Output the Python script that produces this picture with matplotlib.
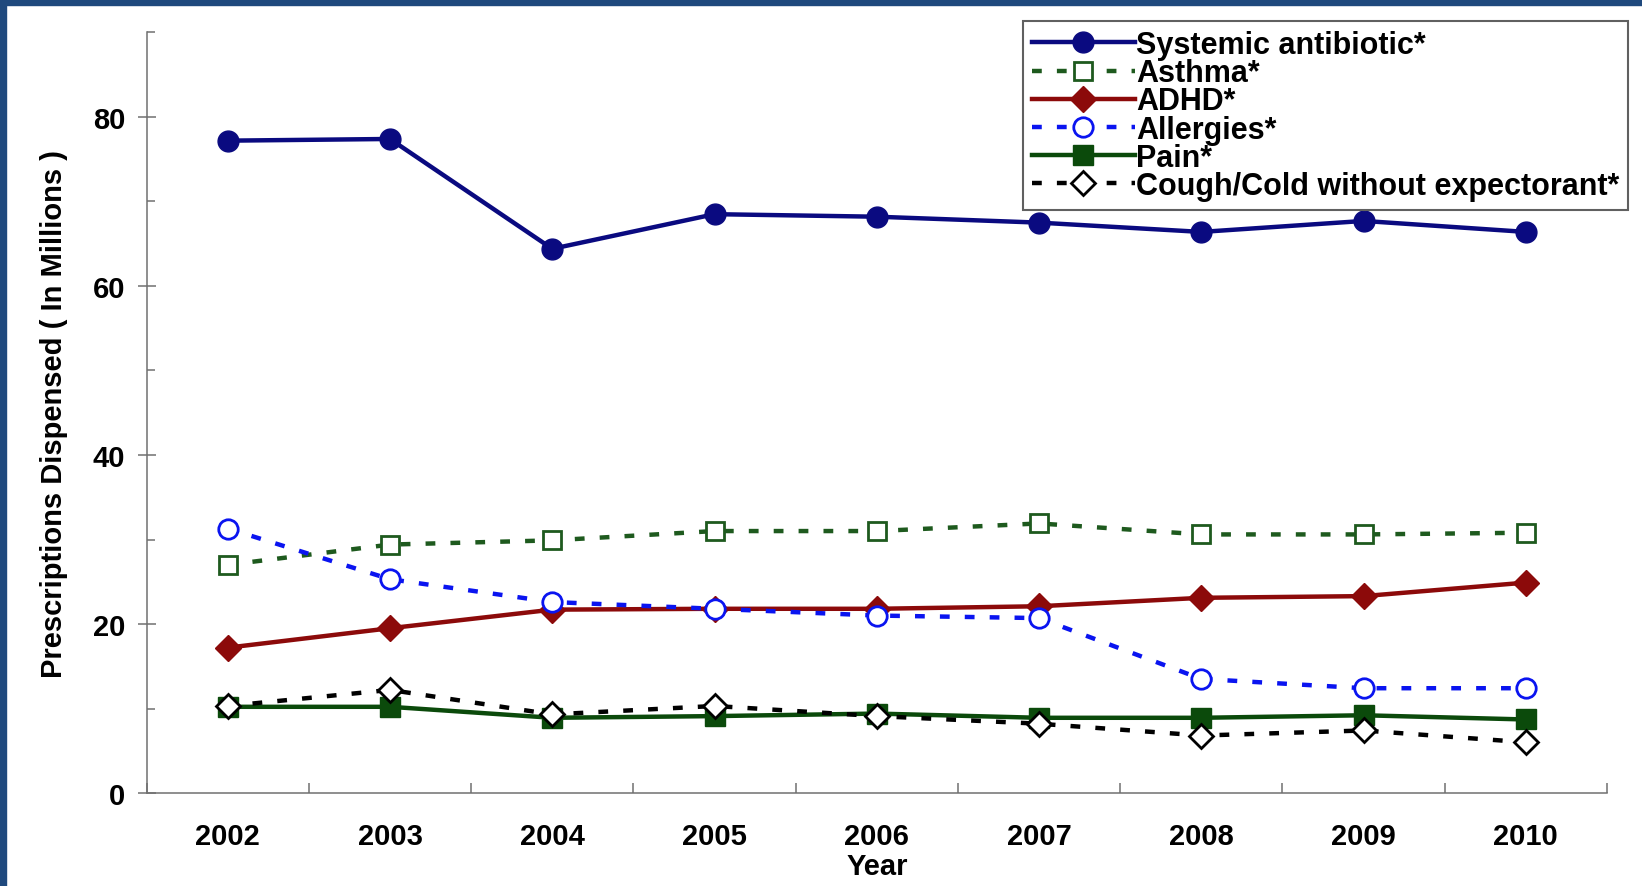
# Prescriptions dispensed by therapeutic class, 2002-2010
import numpy as np
import matplotlib
matplotlib.use("Agg")
import matplotlib.pyplot as plt
from matplotlib.patches import Rectangle
from matplotlib.ticker import MultipleLocator, FixedLocator

years = ["2002", "2003", "2004", "2005", "2006", "2007", "2008", "2009", "2010"]

systemic = [77.2, 77.4, 64.4, 68.5, 68.2, 67.5, 66.4, 67.7, 66.4]
asthma = [27.0, 29.4, 29.9, 31.0, 31.0, 31.9, 30.6, 30.6, 30.8]
adhd = [17.2, 19.5, 21.7, 21.8, 21.8, 22.1, 23.1, 23.3, 24.9]
allergies = [31.3, 25.3, 22.6, 21.8, 21.0, 20.7, 13.5, 12.4, 12.4]
pain = [10.2, 10.2, 8.9, 9.1, 9.4, 8.9, 8.9, 9.2, 8.7]
cough = [10.3, 12.2, 9.3, 10.3, 9.1, 8.2, 6.8, 7.4, 6.0]

labels = ["Systemic antibiotic*", "Asthma*", "ADHD*", "Allergies*", "Pain*",
          "Cough/Cold without expectorant*"]

plt.rcParams['font.family'] = ['Liberation Sans', 'DejaVu Sans']
plt.rcParams['font.weight'] = 'bold'

fig = plt.figure(figsize=(16.42, 8.87), dpi=100)
W, H = 1642, 887
ax = fig.add_axes([146.6 / W, 1 - 794 / H, (1607 - 146.6) / W, (794 - 33.5) / H])

# blue frame on top and left
fig.patches.append(Rectangle((0, 1 - 6 / H), 1, 6 / H, transform=fig.transFigure,
                             color="#1F497D", zorder=10))
fig.patches.append(Rectangle((0, 0), 6 / W, 1, transform=fig.transFigure,
                             color="#1F497D", zorder=10))

x = np.arange(1, len(years) + 1)
lw = 3.2
dash = (2.2, 3.4)

ax.plot(x, systemic, color="#0A0A80", lw=lw, marker="o", ms=15, label=labels[0])
ax.plot(x, asthma, color="#1E5A1E", lw=lw, dashes=dash, marker="s", ms=13,
        mfc="white", mec="#1E5A1E", mew=2, label=labels[1])
ax.plot(x, adhd, color="#8C0A0A", lw=lw, marker="D", ms=13, label=labels[2])
ax.plot(x, allergies, color="#0A14F0", lw=lw, dashes=dash, marker="o", ms=14,
        mfc="white", mec="#0A14F0", mew=2, label=labels[3])
ax.plot(x, pain, color="#0B4A0B", lw=lw, marker="s", ms=14, label=labels[4])
ax.plot(x, cough, color="black", lw=lw, dashes=dash, marker="D", ms=12,
        mfc="white", mec="black", mew=2, label=labels[5])

ax.set_xlim(0.5, len(years) + 0.5)
ax.set_ylim(0, 90)

ax.set_xticks(x)
ax.set_xticklabels(years)
ax.xaxis.set_minor_locator(FixedLocator(np.arange(0.5, len(years) + 1, 1)))
ax.tick_params(axis="x", which="major", length=0, pad=21, labelsize=21)
ax.tick_params(axis="x", which="minor", direction="in", length=7, width=1.1,
               color="#707070")

ax.yaxis.set_major_locator(MultipleLocator(20))
ax.yaxis.set_minor_locator(FixedLocator([10, 30, 50, 70, 90]))
ax.tick_params(axis="y", which="major", direction="inout", length=13, width=1.1,
               color="#707070", pad=9, labelsize=21)
ax.tick_params(axis="y", which="minor", direction="in", length=6, width=1.1,
               color="#707070")

for s in ["top", "right"]:
    ax.spines[s].set_visible(False)
for s in ["left", "bottom"]:
    ax.spines[s].set_color("#707070")
    ax.spines[s].set_linewidth(1.1)

ax.set_xlabel("Year", fontsize=21, fontweight="bold", labelpad=1)
ax.set_ylabel("Prescriptions Dispensed ( In Millions )", fontsize=21, fontweight="bold")
ax.yaxis.set_label_coords(-0.054, 0.5)

leg = fig.legend(loc="upper left", bbox_to_anchor=(1023 / W, 1 - 22 / H),
                 fontsize=22, numpoints=1, handlelength=3.35, handletextpad=0.05,
                 labelspacing=-0.06, borderpad=0.3, borderaxespad=0,
                 fancybox=False, framealpha=1)
leg.get_frame().set_edgecolor("#606060")
leg.get_frame().set_linewidth(1.5)

fig.savefig("out.png", dpi=100)
